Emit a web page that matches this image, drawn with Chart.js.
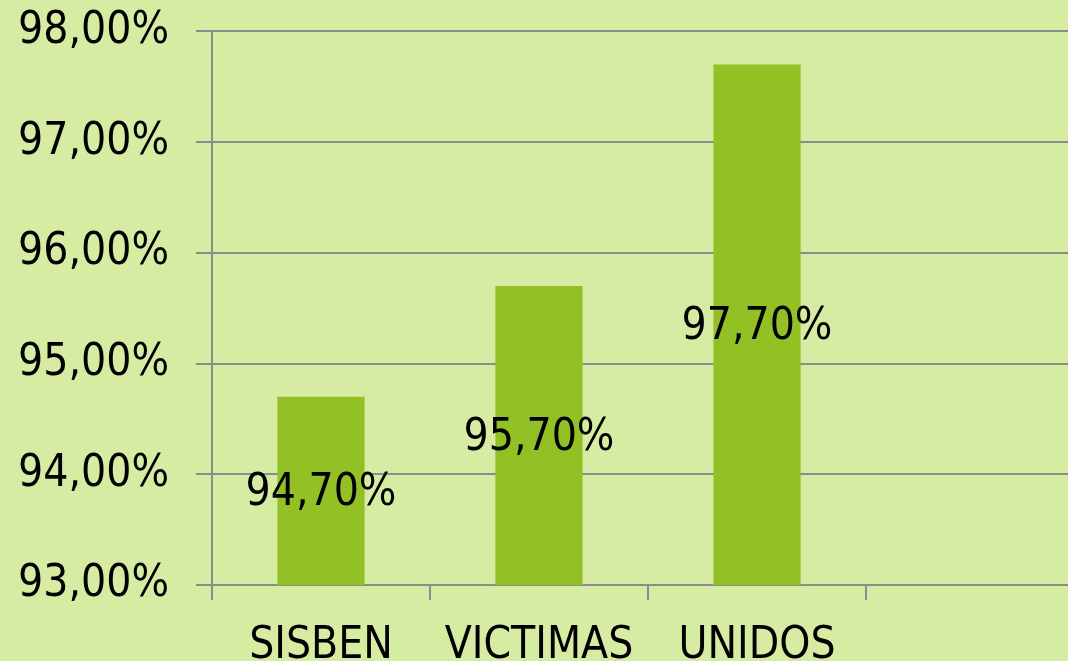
<!DOCTYPE html>
<html>
<head>
<meta charset="utf-8">
<script src="https://cdn.jsdelivr.net/npm/chart.js@4"></script>
<style>
  html, body { margin: 0; padding: 0; overflow: hidden; background: #d7eca3; }
  #wrap { width: 1090px; height: 712px; margin-top: -22px; }
</style>
</head>
<body>
<div id="wrap"><canvas id="chart"></canvas></div>
<script>
// Chart data
const categories = ['SISBEN', 'VICTIMAS', 'UNIDOS', ''];
const values = [94.7, 95.7, 97.7, null];
const yTicks = [93, 94, 95, 96, 97, 98];

const fontFamily = '"DejaVu Sans Condensed", "DejaVu Sans", sans-serif';
const gridColor = '#8c8c8c';

function pct(v) {
    return v.toFixed(2).replace('.', ',') + '%';
}

// Draw value labels centered inside each bar
const barLabels = {
    id: 'barLabels',
    afterDraw(chart) {
        const ctx = chart.ctx;
        const meta = chart.getDatasetMeta(0);
        const yScale = chart.scales.y;
        ctx.save();
        ctx.fillStyle = '#000000';
        ctx.font = '44px ' + fontFamily;
        ctx.textAlign = 'center';
        ctx.textBaseline = 'middle';
        meta.data.forEach((bar, i) => {
            if (values[i] == null) return;
            const top = yScale.getPixelForValue(values[i]);
            const mid = (top + yScale.bottom) / 2;
            ctx.fillText(pct(values[i]), bar.x, mid + 3);
        });
        ctx.restore();
    }
};

new Chart(document.getElementById('chart'), {
    type: 'bar',
    data: {
        labels: categories,
        datasets: [{
            data: values,
            backgroundColor: '#93c025',
            barPercentage: 0.4,
            categoryPercentage: 1
        }]
    },
    options: {
        responsive: true,
        maintainAspectRatio: false,
        animation: false,
        layout: { padding: { top: 9, right: 6 } },
        plugins: { legend: { display: false }, tooltip: { enabled: false } },
        scales: {
            x: {
                afterFit: s => { s.height = 105; },
                grid: {
                    offset: true,
                    drawOnChartArea: false,
                    color: gridColor,
                    lineWidth: 2,
                    tickLength: 15
                },
                border: { color: gridColor, width: 2 },
                ticks: {
                    color: '#000',
                    font: { family: fontFamily, size: 44 },
                    padding: 20,
                    maxRotation: 0
                }
            },
            y: {
                min: 93,
                max: 98,
                afterFit: s => { s.width = 212; },
                afterBuildTicks: s => { s.ticks = yTicks.map(v => ({ value: v })); },
                grid: {
                    color: gridColor,
                    lineWidth: 2,
                    tickLength: 16
                },
                border: { color: gridColor, width: 2 },
                ticks: {
                    color: '#000',
                    font: { family: fontFamily, size: 44 },
                    padding: 27,
                    callback: v => pct(v)
                }
            }
        }
    },
    plugins: [barLabels]
});
</script>
</body>
</html>
